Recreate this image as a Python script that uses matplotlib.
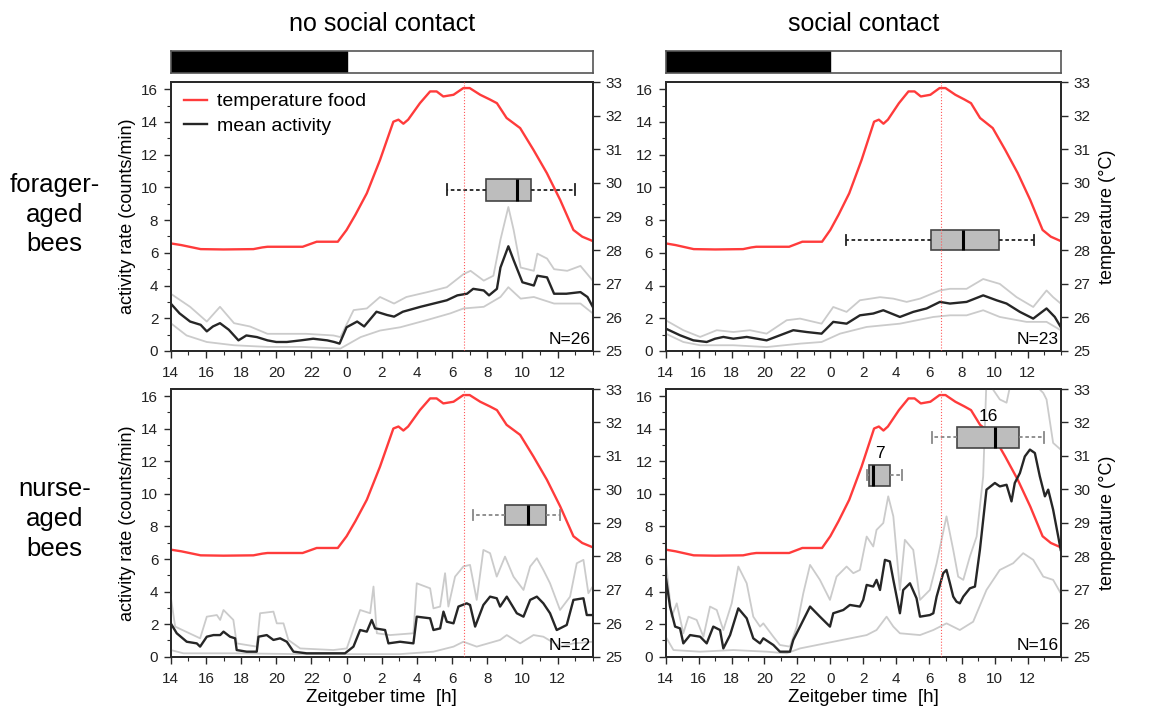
import matplotlib
matplotlib.use('Agg')
import matplotlib.pyplot as plt
from matplotlib.lines import Line2D
from matplotlib.ticker import MultipleLocator

plt.rcParams['font.family'] = ['Liberation Sans', 'DejaVu Sans']

# --- data -------------------------------------------------------------
# time is Zeitgeber time running 14 -> 38 (38 = ZT 14 of the next day)
hour_ticks = list(range(14, 37, 2))
hour_labels = ['14', '16', '18', '20', '22', '0', '2', '4', '6', '8', '10', '12']
dark_phase = [14, 24]
temp_peak_time = 30.7

col_titles = ['no social contact', 'social contact']
row_titles = ['forager-\naged\nbees', 'nurse-\naged\nbees']

# food temperature (°C), same in every panel
temp_time = [14.0, 14.6, 15.7, 17.0, 18.7, 19.2, 19.5, 21.5, 22.3, 23.5, 24.0, 24.5,
             25.15, 25.9, 26.66, 26.95, 27.23, 27.5, 28.17, 28.75, 29.12, 29.5, 30.08,
             30.64, 31.0, 31.6, 32.15, 32.55, 33.1, 33.87, 34.63, 35.39, 36.15, 36.9,
             37.4, 38.0]
temp_food = [28.2, 28.15, 28.03, 28.02, 28.03, 28.08, 28.1, 28.1, 28.25, 28.25, 28.6, 29.05,
             29.69, 30.68, 31.82, 31.88, 31.76, 31.88, 32.37, 32.72, 32.72, 32.57, 32.62,
             32.82, 32.82, 32.62, 32.48, 32.37, 31.93, 31.63, 30.98, 30.29, 29.49, 28.6,
             28.4, 28.27]

# forager-aged, no social contact
fn_mean = [(14.0, 2.9), (14.5, 2.3), (15.1, 1.8), (15.7, 1.6), (16.05, 1.2), (16.4, 1.5),
           (16.8, 1.7), (17.3, 1.3), (17.85, 0.65), (18.3, 0.95), (18.9, 0.85), (19.5, 0.65),
           (20.0, 0.55), (20.6, 0.55), (21.4, 0.65), (22.1, 0.75), (22.9, 0.65), (23.3, 0.55),
           (23.6, 0.45), (24.0, 1.45), (24.6, 1.8), (25.0, 1.5), (25.7, 2.4), (26.3, 2.2),
           (26.7, 2.1), (27.2, 2.4), (28.2, 2.7), (28.95, 2.9), (29.7, 3.1), (30.3, 3.4),
           (30.85, 3.5), (31.2, 3.8), (31.8, 3.7), (32.1, 3.4), (32.55, 3.8), (32.75, 5.1),
           (33.2, 6.4), (33.5, 5.55), (34.0, 4.2), (34.65, 4.0), (34.85, 4.6), (35.4, 4.5),
           (35.8, 3.5), (36.5, 3.5), (37.3, 3.6), (37.7, 3.3), (38.0, 2.7)]
fn_upper = [(14.0, 3.5), (15.1, 2.7), (16.05, 1.8), (16.8, 2.7), (17.6, 1.7), (18.5, 1.5),
            (19.5, 1.05), (20.6, 1.05), (21.7, 1.05), (23.25, 0.95), (23.65, 0.85), (24.4, 2.5),
            (25.15, 2.6), (25.9, 3.3), (26.7, 2.9), (27.4, 3.3), (28.6, 3.6), (29.7, 3.9),
            (30.65, 4.7), (31.05, 4.9), (31.8, 4.3), (32.35, 4.6), (32.75, 6.8), (33.2, 8.8),
            (33.5, 7.4), (33.9, 5.1), (34.65, 4.9), (34.85, 5.95), (35.4, 5.65), (35.8, 5.0),
            (36.55, 4.9), (37.3, 5.2), (38.0, 4.3)]
fn_lower = [(14.0, 1.7), (14.9, 0.95), (16.05, 0.55), (17.6, 0.35), (19.5, 0.25), (21.4, 0.25),
            (23.65, 0.15), (24.8, 0.85), (25.9, 1.25), (27.05, 1.45), (28.6, 1.9), (29.9, 2.3),
            (30.65, 2.6), (31.8, 2.7), (32.75, 3.3), (33.2, 3.9), (33.9, 3.2), (34.65, 3.3),
            (35.8, 2.9), (37.3, 2.9), (38.0, 2.3)]

# forager-aged, social contact
fs_mean = [(14.0, 1.37), (14.87, 0.96), (15.68, 0.65), (16.49, 0.55), (17.0, 0.75), (17.5, 0.86),
           (18.11, 0.75), (18.92, 0.86), (20.13, 0.65), (20.94, 0.96), (21.75, 1.27), (22.56, 1.16),
           (23.47, 1.06), (24.18, 1.78), (24.99, 1.67), (25.8, 2.18), (26.61, 2.29), (27.22, 2.49),
           (28.23, 2.08), (29.04, 2.39), (29.85, 2.6), (30.66, 3.0), (31.27, 2.9), (32.28, 3.0),
           (33.29, 3.4), (34.1, 3.1), (34.71, 2.9), (35.52, 2.39), (36.33, 1.98), (37.14, 2.6),
           (37.64, 2.08), (38.0, 1.47)]
fs_upper = [(14.0, 1.88), (15.07, 1.27), (16.09, 0.86), (17.1, 1.27), (18.11, 1.16), (19.12, 1.27),
            (20.13, 1.06), (21.35, 1.88), (22.16, 1.98), (23.47, 1.67), (24.18, 2.69), (24.99, 2.39),
            (25.8, 3.1), (27.02, 3.29), (27.83, 3.2), (28.64, 3.0), (29.45, 3.2), (30.66, 3.7),
            (31.27, 3.8), (32.28, 3.8), (33.29, 4.4), (34.3, 4.1), (35.32, 3.29), (36.33, 2.69),
            (37.14, 3.7), (37.54, 3.29), (38.0, 2.9)]
fs_lower = [(14.0, 1.06), (15.07, 0.55), (16.09, 0.35), (18.11, 0.35), (20.13, 0.24), (22.16, 0.45),
            (23.47, 0.55), (24.59, 1.06), (26.21, 1.47), (28.23, 1.67), (30.26, 2.08), (31.27, 2.18),
            (32.28, 2.18), (33.29, 2.49), (34.3, 2.08), (35.92, 1.78), (37.14, 1.78), (38.0, 1.27)]

# nurse-aged, no social contact
nn_mean = [(14.0, 2.05), (14.34, 1.44), (14.91, 0.92), (15.48, 0.82), (15.67, 0.62), (16.05, 1.23),
           (16.43, 1.33), (16.81, 1.33), (17.0, 1.54), (17.37, 1.23), (17.66, 1.13), (17.75, 0.41),
           (18.32, 0.31), (18.89, 0.31), (18.99, 1.23), (19.46, 1.33), (19.84, 1.03), (20.22, 1.13),
           (20.6, 0.92), (20.98, 0.31), (21.73, 0.21), (22.87, 0.21), (23.91, 0.21), (24.39, 0.62),
           (24.77, 1.64), (25.15, 1.54), (25.43, 2.26), (25.62, 1.74), (26.19, 1.64), (26.38, 0.82),
           (27.04, 0.92), (27.8, 0.82), (27.99, 2.46), (28.75, 2.36), (28.94, 1.64), (29.32, 1.74),
           (29.51, 2.77), (29.7, 2.15), (30.08, 2.05), (30.36, 3.08), (30.83, 3.28), (31.02, 3.18),
           (31.31, 1.85), (31.78, 3.18), (32.16, 3.69), (32.54, 3.59), (32.73, 3.08), (33.11, 3.69),
           (33.68, 2.67), (34.06, 2.46), (34.44, 3.49), (34.82, 3.69), (35.19, 3.28), (35.57, 2.67),
           (35.95, 1.64), (36.52, 1.95), (36.9, 3.49), (37.47, 3.59), (37.66, 2.56), (38.0, 2.56)]
nn_upper = [(14.0, 3.69), (14.25, 1.85), (15.67, 1.13), (16.05, 2.46), (16.62, 2.56), (16.81, 2.26),
            (17.0, 2.87), (17.56, 2.26), (17.75, 0.82), (18.89, 0.62), (19.08, 2.67), (19.84, 2.77),
            (20.03, 2.05), (20.41, 2.05), (20.69, 1.03), (21.36, 0.51), (23.25, 0.41), (24.01, 0.51),
            (24.77, 2.87), (25.34, 2.67), (25.53, 4.31), (25.72, 1.44), (26.47, 1.33), (27.8, 1.44),
            (27.99, 4.51), (28.75, 4.2), (28.94, 2.97), (29.32, 3.08), (29.6, 5.13), (29.79, 3.08),
            (30.17, 4.92), (30.64, 5.54), (31.02, 5.64), (31.4, 3.49), (31.78, 6.56), (32.16, 6.36),
            (32.54, 4.92), (33.01, 6.15), (33.49, 4.92), (34.06, 4.1), (34.44, 5.54), (34.82, 6.05),
            (35.19, 5.33), (35.57, 4.51), (36.14, 2.87), (36.71, 3.69), (37.09, 5.74), (37.47, 5.95),
            (37.75, 3.9), (38.0, 4.31)]
nn_lower = [(14.0, 0.41), (14.72, 0.21), (17.56, 0.21), (21.36, 0.16), (27.04, 0.16), (28.94, 0.31),
            (30.08, 0.62), (30.64, 0.92), (31.4, 0.62), (32.73, 1.03), (33.11, 1.33), (33.87, 0.82),
            (34.63, 1.33), (35.19, 1.23), (36.14, 0.62), (36.9, 0.82), (38.0, 0.92)]

# nurse-aged, social contact
ns_mean = [(14.0, 4.92), (14.26, 3.08), (14.57, 1.85), (14.87, 1.74), (15.07, 0.82), (15.48, 1.33),
           (16.09, 1.23), (16.49, 0.82), (16.89, 1.85), (17.3, 1.64), (17.5, 0.51), (17.91, 1.33),
           (18.41, 2.97), (18.92, 2.36), (19.32, 1.13), (19.73, 0.82), (19.93, 1.13), (20.54, 0.72),
           (20.94, 0.31), (21.55, 0.31), (21.75, 1.03), (22.16, 1.85), (22.77, 3.08), (23.37, 2.46),
           (23.98, 1.85), (24.18, 2.67), (24.79, 2.87), (25.19, 3.18), (25.8, 3.08), (26.0, 3.49),
           (26.21, 4.41), (26.61, 4.31), (26.81, 4.72), (27.02, 4.1), (27.32, 5.95), (27.62, 5.85),
           (27.83, 4.72), (28.23, 2.67), (28.43, 4.1), (28.84, 4.51), (29.24, 3.59), (29.45, 2.46),
           (30.05, 2.56), (30.26, 2.67), (30.46, 3.69), (30.86, 5.13), (31.06, 5.33), (31.27, 4.51),
           (31.47, 3.69), (31.67, 3.38), (31.87, 3.28), (32.08, 3.69), (32.48, 4.2), (32.79, 4.31),
           (33.09, 6.56), (33.49, 10.26), (34.0, 10.67), (34.3, 10.46), (34.71, 10.56), (35.01, 9.54),
           (35.21, 10.67), (35.52, 11.28), (35.82, 12.3), (36.13, 12.72), (36.43, 12.51), (36.73, 11.08),
           (37.04, 9.85), (37.24, 10.26), (37.54, 9.03), (37.85, 7.38), (38.0, 6.56)]
ns_upper = [(14.0, 5.95), (14.36, 2.46), (14.67, 3.28), (15.07, 1.44), (15.38, 2.46), (15.88, 2.26),
            (16.29, 1.23), (16.69, 3.08), (17.1, 2.87), (17.5, 1.64), (18.01, 3.28), (18.41, 5.54),
            (18.92, 4.51), (19.32, 2.46), (19.73, 1.85), (19.93, 2.05), (20.54, 1.23), (20.94, 0.72),
            (21.55, 0.62), (21.96, 1.85), (22.36, 3.9), (22.77, 5.64), (23.37, 4.72), (23.98, 3.49),
            (24.38, 4.92), (24.99, 5.54), (25.4, 5.13), (25.8, 5.33), (26.21, 7.38), (26.61, 6.77),
            (26.81, 7.79), (27.22, 8.21), (27.52, 9.85), (27.83, 8.62), (28.23, 4.1), (28.53, 7.18),
            (29.04, 6.56), (29.45, 3.49), (30.05, 4.1), (30.46, 5.74), (31.06, 8.62), (31.47, 6.56),
            (31.77, 4.92), (32.08, 4.72), (32.48, 6.15), (32.89, 7.38), (33.29, 11.08), (33.49, 17.0),
            (34.3, 15.8), (34.71, 15.6), (35.11, 17.5), (35.62, 17.5), (36.94, 16.2), (37.14, 15.8),
            (37.54, 13.13), (38.0, 12.72)]
ns_lower = [(14.0, 1.23), (14.47, 0.41), (16.09, 0.31), (18.11, 0.41), (20.13, 0.31), (21.35, 0.21),
            (22.16, 0.51), (24.18, 0.92), (26.21, 1.33), (26.81, 1.64), (27.42, 2.46), (27.83, 1.85),
            (28.23, 1.44), (29.45, 1.33), (30.26, 1.64), (31.06, 2.05), (31.87, 1.64), (32.68, 2.15),
            (33.49, 4.1), (34.3, 5.33), (35.11, 5.74), (35.72, 6.36), (36.33, 5.95), (36.94, 4.92),
            (37.54, 4.72), (38.0, 3.9)]

# onset-of-activity box plots: (whislo, q1, med, q3, whishi) in ZT hours
fn_box = [(29.7, 31.93, 33.7, 34.46, 37.0)]
fs_box = [(24.93, 30.1, 32.04, 34.26, 36.39)]
nn_box = [(31.21, 33.01, 34.3, 35.35, 36.14)]
ns_box = [(26.2, 26.37, 26.6, 27.62, 28.33), (30.15, 31.67, 34.0, 35.48, 37.0)]
ns_box_labels = ['7', '16']

n_bees = [26, 23, 12, 16]

# --- layout -----------------------------------------------------------
fig = plt.figure(figsize=(11.6, 7.15), dpi=100)

SPINE = '#2a2a2a'
RED = '#ff3b3b'
GRAY = '#cbcbcb'
DARK = '#262626'

panels = [
    dict(rect=[0.1472, 0.5091, 0.3638, 0.3762], mean=fn_mean, upper=fn_upper, lower=fn_lower,
         box=fn_box, box_pos=[9.85], box_h=1.33, box_lab=None, n=n_bees[0],
         left=True, bottom=False, legend=True, wcol='#222222'),
    dict(rect=[0.5739, 0.5091, 0.3405, 0.3762], mean=fs_mean, upper=fs_upper, lower=fs_lower,
         box=fs_box, box_pos=[6.78], box_h=1.23, box_lab=None, n=n_bees[1],
         left=False, bottom=False, legend=False, wcol='#222222'),
    dict(rect=[0.1472, 0.0815, 0.3638, 0.3744], mean=nn_mean, upper=nn_upper, lower=nn_lower,
         box=nn_box, box_pos=[8.7], box_h=1.27, box_lab=None, n=n_bees[2],
         left=True, bottom=True, legend=False, wcol='#888888'),
    dict(rect=[0.5739, 0.0815, 0.3405, 0.3744], mean=ns_mean, upper=ns_upper, lower=ns_lower,
         box=ns_box, box_pos=[11.15, 13.47], box_h=1.29, box_lab=ns_box_labels, n=n_bees[3],
         left=False, bottom=True, legend=False, wcol='#888888'),
]

for p in panels:
    ax = fig.add_axes(p['rect'])
    ax2 = ax.twinx()
    ax.set_zorder(ax2.get_zorder() + 1)
    ax.patch.set_visible(False)

    ax2.plot(temp_time, temp_food, color=RED, lw=1.7)
    ax2.set_ylim(25, 33)

    for series in (p['upper'], p['lower']):
        t, v = zip(*series)
        ax.plot(t, v, color=GRAY, lw=1.3, zorder=2)
    t, v = zip(*p['mean'])
    ax.plot(t, v, color=DARK, lw=1.7, zorder=3)

    for i, (lo, q1, med, q3, hi) in enumerate(p['box']):
        stats = [dict(whislo=lo, q1=q1, med=med, q3=q3, whishi=hi, fliers=[])]
        ax.bxp(stats, positions=[p['box_pos'][i]], widths=[p['box_h']],
               orientation='horizontal', patch_artist=True, showfliers=False, manage_ticks=False,
               boxprops=dict(facecolor='#bdbdbd', edgecolor='#444444', lw=1.2),
               medianprops=dict(color='black', lw=2.2),
               whiskerprops=dict(color=p['wcol'], lw=1.3, ls=(0, (2, 1.5))),
               capprops=dict(color=p['wcol'], lw=1.3))
        if p['box_lab']:
            ax.text((q1 + q3) / 2, p['box_pos'][i] + p['box_h'] / 2 + 0.2, p['box_lab'][i],
                    ha='center', va='bottom', fontsize=12.5, zorder=7)

    ax.axvline(temp_peak_time, color='#ff5a5a', lw=0.8, ls=':', zorder=8)

    ax.set_xlim(14, 38)
    ax.set_ylim(0, 16.44)
    ax.set_xticks(hour_ticks)
    ax.set_xticklabels(hour_labels)
    ax.xaxis.set_minor_locator(MultipleLocator(1))
    ax.set_yticks(range(0, 17, 2))
    ax.yaxis.set_minor_locator(MultipleLocator(1))
    ax2.set_yticks(range(25, 34))

    for a in (ax, ax2):
        a.tick_params(which='major', direction='out', length=5, width=1, color=SPINE,
                      labelsize=11, labelcolor='#222222', pad=4)
        a.tick_params(which='minor', direction='out', length=3, width=0.8, color=SPINE)
        for s in a.spines.values():
            s.set_color(SPINE)
            s.set_linewidth(1.4)
    ax.tick_params(axis='x', which='major', pad=6)

    if p['left']:
        ax.set_ylabel('activity rate (counts/min)', fontsize=13, labelpad=4)
    else:
        ax2.set_ylabel('temperature (°C)', fontsize=13, labelpad=6)
    if p['bottom']:
        ax.set_xlabel('Zeitgeber time  [h]', fontsize=13.5, labelpad=2)

    ax.text(0.995, 0.015, f'N={p["n"]}', transform=ax.transAxes, ha='right', va='bottom',
            fontsize=12.5, zorder=9)

    if p['legend']:
        handles = [Line2D([], [], color=RED, lw=1.7), Line2D([], [], color=DARK, lw=1.7)]
        ax.legend(handles, ['temperature food', 'mean activity'], loc='upper left',
                  bbox_to_anchor=(-0.01, 1.025), frameon=False, fontsize=14,
                  handlelength=1.2, handletextpad=0.5, labelspacing=0.35)

    # light/dark bar above the top row
    if not p['bottom']:
        x0, y0, w, h = p['rect']
        bar = fig.add_axes([x0, 0.8979, w, 0.0312])
        bar.axvspan(dark_phase[0], dark_phase[1], color='black')
        bar.set_xlim(14, 38)
        bar.set_xticks([])
        bar.set_yticks([])
        for s in bar.spines.values():
            s.set_color('#555555')
            s.set_linewidth(1.2)
        fig.text(x0 + w / 2, 0.966, col_titles[0 if p['left'] else 1], ha='center', va='center',
                 fontsize=18)

fig.text(0.047, 0.70, row_titles[0], ha='center', va='center', fontsize=18.5, linespacing=1.3)
fig.text(0.047, 0.274, row_titles[1], ha='center', va='center', fontsize=18.5, linespacing=1.3)

fig.savefig('out.png', dpi=100)
